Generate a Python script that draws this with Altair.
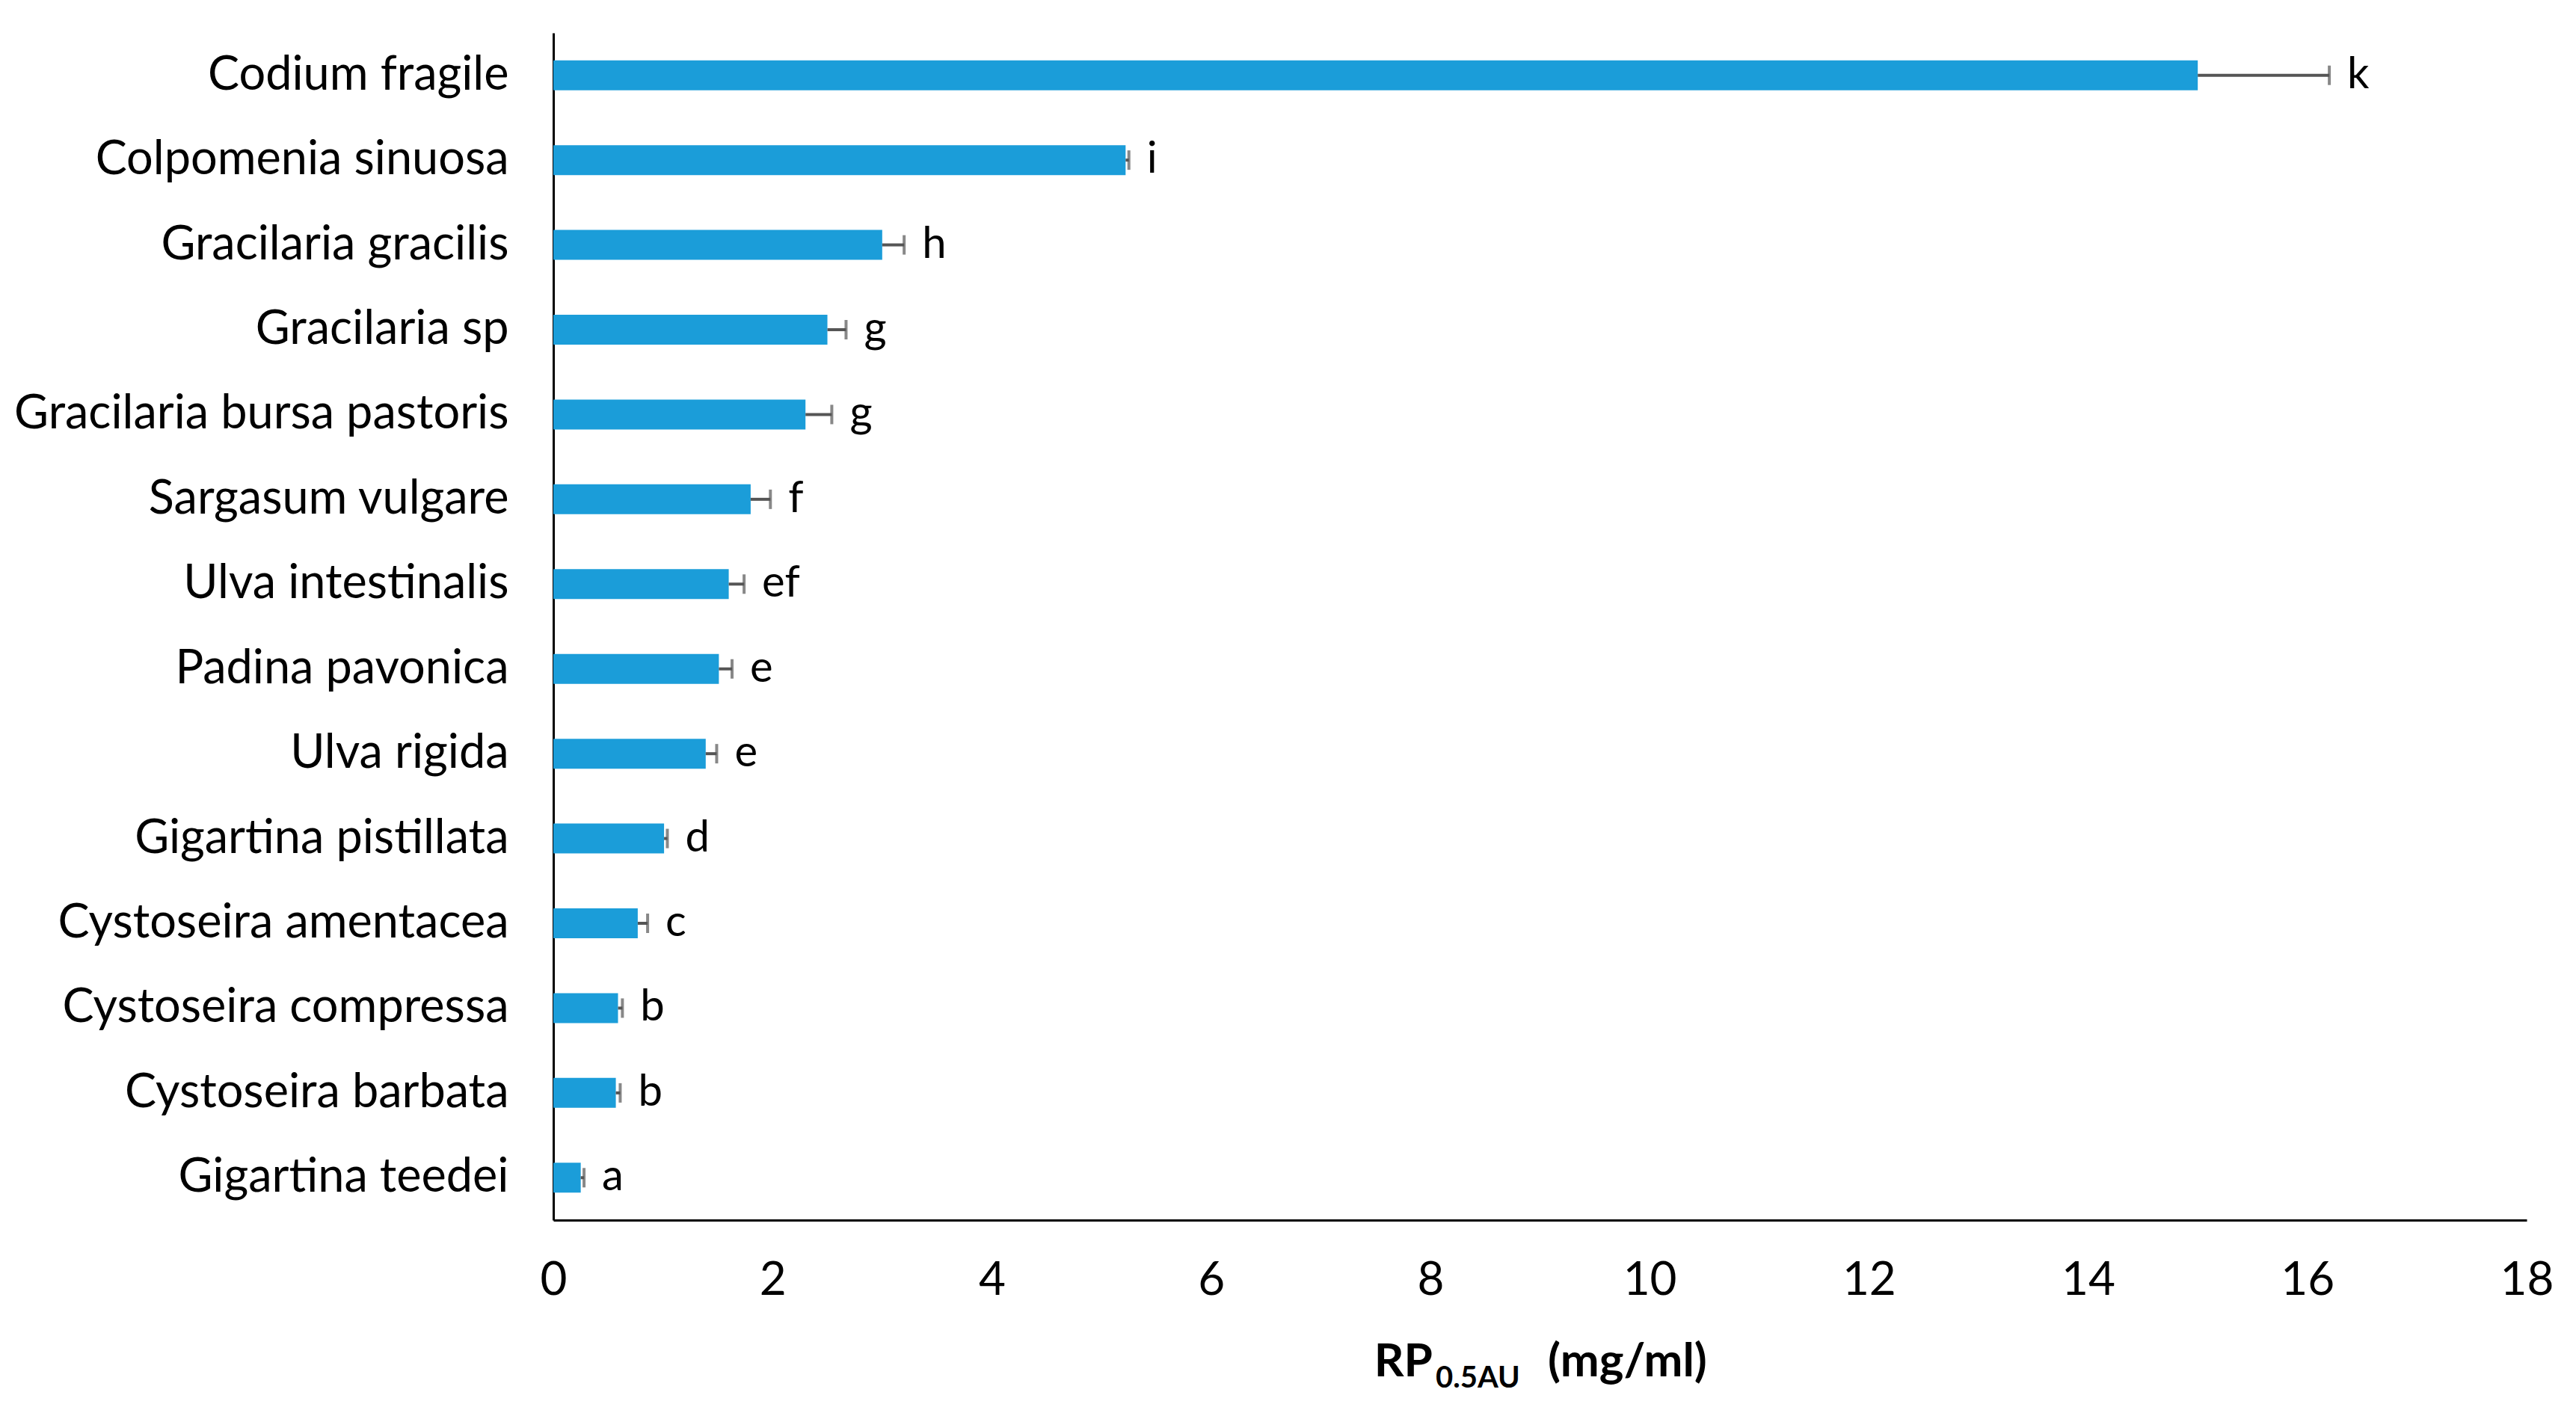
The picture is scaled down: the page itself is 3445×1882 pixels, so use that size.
import altair as alt
import pandas as pd

species = ["Codium fragile", "Colpomenia sinuosa", "Gracilaria gracilis", "Gracilaria sp",
           "Gracilaria bursa pastoris", "Sargasum vulgare", "Ulva intestinalis", "Padina pavonica",
           "Ulva rigida", "Gigartina pistillata", "Cystoseira amentacea", "Cystoseira compressa",
           "Cystoseira barbata", "Gigartina teedei"]
values = [15.0, 5.22, 3.0, 2.5, 2.3, 1.8, 1.6, 1.51, 1.39, 1.01, 0.77, 0.59, 0.57, 0.25]
errors = [1.2, 0.03, 0.2, 0.17, 0.24, 0.18, 0.14, 0.12, 0.1, 0.03, 0.09, 0.04, 0.04, 0.03]
letters = ["k", "i", "h", "g", "g", "f", "ef", "e", "e", "d", "c", "b", "b", "a"]
x_ticks = [0, 2, 4, 6, 8, 10, 12, 14, 16, 18]
title_main = "RP"
title_sub = "0.5AU"
title_unit = "(mg/ml)"

df = pd.DataFrame({"species": species, "value": values, "err": errors, "letter": letters})
df["upper"] = df["value"] + df["err"]

W, H = 2639, 1588
FONT = "Lato"
BAR = "#1B9DD9"
ERR = "#555555"

y_enc = alt.Y("species:N", sort=species,
              scale=alt.Scale(paddingInner=0, paddingOuter=0),
              axis=alt.Axis(title=None, labelFontSize=63, labelFont=FONT, labelColor="black",
                            labelPadding=60, ticks=False, tickSize=0, domainColor="black",
                            domainWidth=3, labelLimit=1200, grid=False))
x_scale = alt.Scale(domain=[0, 18], nice=False)
x_enc = alt.X("value:Q", scale=x_scale,
              axis=alt.Axis(title=None, values=x_ticks, labelFontSize=62, labelFont=FONT,
                            labelColor="black", labelPadding=50, ticks=False, tickSize=0,
                            labelFlush=False, labelOverlap=False,
                            domainColor="black", domainWidth=3, grid=False, format="d"))

base = alt.Chart(df)
bars = base.mark_bar(size=40, color=BAR).encode(y=y_enc, x=x_enc)
err_rule = base.mark_rule(color=ERR, strokeWidth=4).encode(
    y=alt.Y("species:N", sort=species), x=alt.X("value:Q", scale=x_scale), x2="upper:Q")
err_cap = base.mark_tick(color=ERR, thickness=4, size=26).encode(
    y=alt.Y("species:N", sort=species), x=alt.X("upper:Q", scale=x_scale))
labels = base.mark_text(align="left", baseline="middle", dx=24, fontSize=58, font=FONT,
                        color="black").encode(
    y=alt.Y("species:N", sort=species), x=alt.X("upper:Q", scale=x_scale), text="letter:N")

t1 = alt.Chart(pd.DataFrame({"t": [title_main]})).mark_text(
    align="right", baseline="alphabetic", fontSize=62, fontWeight="bold", font=FONT, color="black"
).encode(x=alt.value(1176), y=alt.value(1797), text="t:N")
t2 = alt.Chart(pd.DataFrame({"t": [title_sub]})).mark_text(
    align="left", baseline="alphabetic", fontSize=40, fontWeight="bold", font=FONT, color="black"
).encode(x=alt.value(1180), y=alt.value(1812), text="t:N")
t3 = alt.Chart(pd.DataFrame({"t": [title_unit]})).mark_text(
    align="left", baseline="alphabetic", fontSize=62, fontWeight="bold", font=FONT, color="black"
).encode(x=alt.value(1330), y=alt.value(1797), text="t:N")

chart = alt.layer(bars, err_rule, err_cap, labels, t1, t2, t3).properties(
    width=W, height=H,
    autosize=alt.AutoSizeParams(type="none"),
    padding={"left": 732, "top": 36, "right": 58, "bottom": 240},
    background="white",
).configure_view(stroke=None)

chart.save("out.html", embed_options={"renderer": "svg", "actions": False})
